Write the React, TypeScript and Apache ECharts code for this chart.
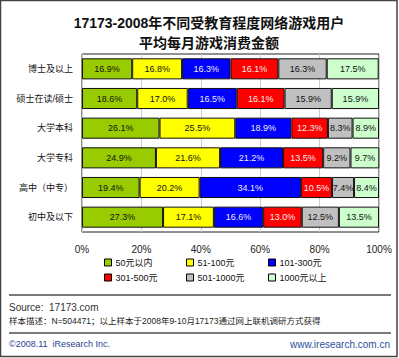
import React, { useEffect, useRef } from "react";
import * as echarts from "echarts";

const categories = ["博士及以上", "硕士在读/硕士", "大学本科", "大学专科", "高中（中专）", "初中及以下"];
const seriesNames = ["50元以内", "51-100元", "101-300元", "301-500元", "501-1000元", "1000元以上"];
const s50 = [16.9, 18.6, 26.1, 24.9, 19.4, 27.3];
const s100 = [16.8, 17.0, 25.5, 21.6, 20.2, 17.1];
const s300 = [16.3, 16.5, 18.9, 21.2, 34.1, 16.6];
const s500 = [16.1, 16.1, 12.3, 13.5, 10.5, 13.0];
const s1000 = [16.3, 15.9, 8.3, 9.2, 7.4, 12.5];
const sAbove = [17.5, 15.9, 8.9, 9.7, 8.4, 13.5];
const seriesData = [s50, s100, s300, s500, s1000, sAbove];
const colors = ["#99cc00", "#ffff00", "#0000ff", "#ff0000", "#c0c0c0", "#ccffcc"];
const labelColors = ["#111", "#111", "#eee", "#eee", "#111", "#111"];
const titleLines = ["17173-2008年不同受教育程度网络游戏用户", "平均每月游戏消费金额"];

const FONT = "'Liberation Sans', Arial, 'Noto Sans CJK SC', sans-serif";

export default function App() {
  const ref = useRef<HTMLDivElement>(null);
  useEffect(() => {
    if (!ref.current) return;
    const chart = echarts.init(ref.current, null, { renderer: "svg" });
    const legendPos = [
      [104, 258], [186, 258], [268, 258],
      [104, 273], [186, 273], [268, 273],
    ];
    chart.setOption({
      animation: false,
      backgroundColor: "#fff",
      textStyle: { fontFamily: FONT },
      grid: {
        left: 82, right: 20, top: 54, bottom: 126,
        show: true, borderColor: "#222", borderWidth: 1, backgroundColor: "transparent",
      },
      xAxis: {
        type: "value", min: 0, max: 100, interval: 20,
        axisLine: { show: false }, axisTick: { show: false },
        splitLine: { show: true, lineStyle: { color: "#cccccc", width: 1 } },
        axisLabel: { formatter: "{value}%", fontSize: 10, color: "#222", margin: 12, fontFamily: FONT },
      },
      yAxis: {
        type: "category", data: categories, inverse: true,
        axisLine: { show: false }, axisTick: { show: false },
        axisLabel: { fontSize: 9, color: "#111", margin: 9, fontFamily: FONT },
      },
      legend: seriesNames.map((n, i) => ({
        data: [n],
        left: legendPos[i][0], top: legendPos[i][1],
        icon: "rect", itemWidth: 7, itemHeight: 7, itemGap: 0,
        padding: 0,
        selectedMode: false,
        textStyle: { fontSize: 9, color: "#111", padding: [0, 0, 0, -1], fontFamily: FONT },
        itemStyle: { borderColor: "#000", borderWidth: 1 },
      })),
      series: seriesNames.map((n, i) => ({
        name: n, type: "bar", stack: "total", data: seriesData[i],
        barCategoryGap: "29%",
        itemStyle: { color: colors[i], borderColor: "#111", borderWidth: 1 },
        label: {
          show: true, position: "inside", formatter: (p: any) => p.value.toFixed(1) + "%",
          fontSize: 9, color: labelColors[i], fontFamily: FONT,
        },
      })),
      graphic: [
        { type: "rect", shape: { x: 0.5, y: 0.5, width: 396.5, height: 356 }, style: { fill: "none", stroke: "#444", lineWidth: 1.5 }, silent: true },
        { type: "text", x: 209, y: 23, style: { text: titleLines[0], fontSize: 14, fontWeight: "bold", fill: "#111", align: "center", verticalAlign: "middle", fontFamily: FONT } },
        { type: "text", x: 209, y: 43, style: { text: titleLines[1], fontSize: 14, fontWeight: "bold", fill: "#111", align: "center", verticalAlign: "middle", fontFamily: FONT } },
        { type: "line", shape: { x1: 9, y1: 295, x2: 391, y2: 295 }, style: { stroke: "#7a7a7a", lineWidth: 2 } },
        { type: "line", shape: { x1: 9, y1: 333, x2: 391, y2: 333 }, style: { stroke: "#7a7a7a", lineWidth: 2 } },
        { type: "text", x: 9, y: 307, style: { text: "Source:  17173.com", fontSize: 10, fill: "#333", verticalAlign: "middle", fontFamily: FONT } },
        { type: "text", x: 9, y: 321, style: { text: "样本描述：N=504471；以上样本于2008年9-10月17173通过网上联机调研方式获得", fontSize: 8.5, fill: "#222", verticalAlign: "middle", fontFamily: FONT } },
        { type: "text", x: 9, y: 344, style: { text: "©2008.11  iResearch Inc.", fontSize: 9, fill: "#2a3f8f", verticalAlign: "middle", fontFamily: FONT } },
        { type: "text", x: 390, y: 344, style: { text: "www.iresearch.com.cn", fontSize: 10, fill: "#2a4fa0", align: "right", verticalAlign: "middle", fontFamily: FONT } },
      ],
    });
    return () => chart.dispose();
  }, []);
  return <div ref={ref} style={{ position: "fixed", left: 0, top: 0, width: 399, height: 358 }} />;
}
